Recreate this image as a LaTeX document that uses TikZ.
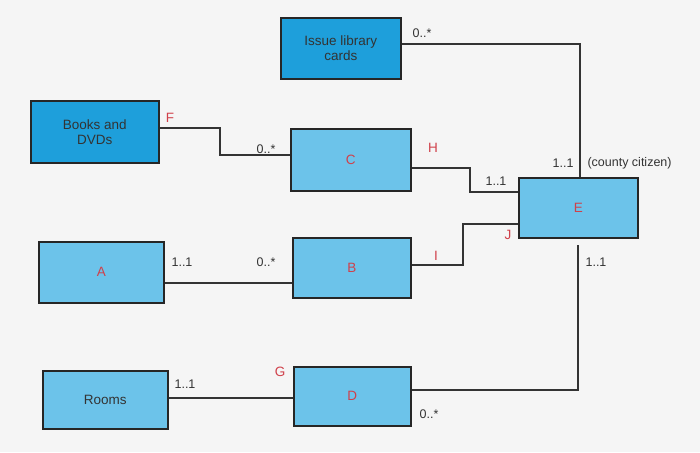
\documentclass[tikz,border=0pt]{standalone}
\usepackage{fontspec}
\setmainfont{Liberation Sans}
\definecolor{dkb}{HTML}{1E9FDB}
\definecolor{ltb}{HTML}{6CC3EA}
\definecolor{rdl}{HTML}{D0404A}
\begin{document}
\begin{tikzpicture}[x=1pt,y=-1pt,
  dk/.style={draw=black!85,line width=1.6pt,fill=dkb,align=center,font=\fontsize{13.5}{15}\selectfont,text=black!80},
  lt/.style={draw=black!85,line width=1.6pt,fill=ltb,align=center,font=\fontsize{13.5}{15}\selectfont,text=black!80},
  ln/.style={draw=black!80,line width=1.3pt},
  lb/.style={font=\fontsize{12.5}{14}\selectfont,text=black!80},
  rd/.style={font=\fontsize{13.5}{15}\selectfont,text=rdl}]
\fill[gray!8] (0,0) rectangle (700,452);
\useasboundingbox (0,0) rectangle (700,452);
\node[dk,minimum width=120,minimum height=61,anchor=north west] (issue) at (280,17) {Issue library\\cards};
\node[dk,minimum width=128,minimum height=62,anchor=north west] (books) at (30,100) {Books and\\DVDs};
\node[lt,minimum width=120,minimum height=62,anchor=north west] (C) at (290,128) {\textcolor{rdl}{C}};
\node[lt,minimum width=119,minimum height=60,anchor=north west] (E) at (518,177) {\textcolor{rdl}{E}};
\node[lt,minimum width=125,minimum height=61,anchor=north west] (A) at (38,241) {\textcolor{rdl}{A}};
\node[lt,minimum width=118,minimum height=60,anchor=north west] (B) at (292,237) {\textcolor{rdl}{B}};
\node[lt,minimum width=125,minimum height=58,anchor=north west] (rooms) at (42,370) {Rooms};
\node[lt,minimum width=117,minimum height=59,anchor=north west] (D) at (293,366) {\textcolor{rdl}{D}};
\draw[ln] (issue.east |- 0,44) -- (580,44) -- (580,177);
\draw[ln] (books.east |- 0,128) -- (220,128) -- (220,155) -- (C.west |- 0,155);
\draw[ln] (C.east |- 0,168) -- (470,168) -- (470,192) -- (E.west |- 0,192);
\draw[ln] (B.east |- 0,265) -- (463,265) -- (463,224) -- (E.west |- 0,224);
\draw[ln] (A.east |- 0,283) -- (B.west |- 0,283);
\draw[ln] (rooms.east |- 0,398) -- (D.west |- 0,398);
\draw[ln] (D.east |- 0,390) -- (578,390) -- (578,245);
\node[lb] (l1) at (422,33) {0..*};
\node[rd] (lF) at (170,118) {F};
\node[lb] (l2) at (266,149) {0..*};
\node[rd] (lH) at (433,148) {H};
\node[lb] (l3) at (496,181) {1..1};
\node[lb,anchor=east] (l4) at (577,163) {1..1};
\node[lb,anchor=west] (l5) at (584,163) {(county citizen)};
\node[lb] (l6) at (596,262) {1..1};
\node[rd] (lJ) at (508,235) {J};
\node[rd] (lI) at (436,256) {I};
\node[lb] (l7) at (182,262) {1..1};
\node[lb] (l8) at (266,262) {0..*};
\node[rd] (lG) at (280,372) {G};
\node[lb] (l9) at (185,384) {1..1};
\node[lb] (l10) at (429,414) {0..*};
\end{tikzpicture}
\end{document}
